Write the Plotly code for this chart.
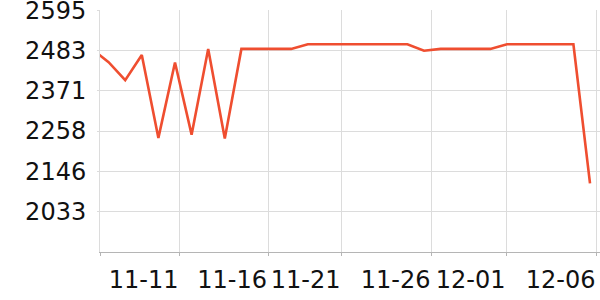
import plotly.graph_objects as go

dates = ["2023-11-06", "2023-11-07", "2023-11-08", "2023-11-09", "2023-11-10",
         "2023-11-11", "2023-11-12", "2023-11-13", "2023-11-14", "2023-11-15",
         "2023-11-16", "2023-11-17", "2023-11-18", "2023-11-19", "2023-11-20",
         "2023-11-21", "2023-11-22", "2023-11-23", "2023-11-24", "2023-11-25",
         "2023-11-26", "2023-11-27", "2023-11-28", "2023-11-29", "2023-11-30",
         "2023-12-01", "2023-12-02", "2023-12-03", "2023-12-04", "2023-12-05",
         "2023-12-06"]
values = [2487, 2450, 2400, 2470, 2239, 2449, 2248, 2487, 2237, 2487,
          2487, 2487, 2487, 2500, 2500, 2500, 2500, 2500, 2500, 2500,
          2482, 2487, 2487, 2487, 2487, 2500, 2500, 2500, 2500, 2500,
          2112]

x_tick_times = ["2023-11-06 11:34", "2023-11-11 06:30", "2023-11-16 14:27",
                "2023-11-21 00:43", "2023-11-26 10:50", "2023-11-30 23:17",
                "2023-12-06 09:22"]
x_tick_labels = ["", "11-11", "11-16", "11-21", "11-26", "12-01", "12-06"]

y_tick_vals = [2033, 2146, 2258, 2371, 2483, 2595]
y_tick_labels = ["2033", "2146", "2258", "2371", "2483", "2595"]

x_range = ["2023-11-06 11:34", "2023-12-06 14:27"]
y_range = [1921, 2595.4]

fig = go.Figure()
fig.add_trace(go.Scatter(
    x=dates, y=values, mode="lines",
    line=dict(color="#ef4e30", width=2.6),
    hoverinfo="skip",
))

fig.update_layout(
    width=600, height=300,
    margin=dict(l=100, r=0, t=10, b=48, autoexpand=False),
    paper_bgcolor="white", plot_bgcolor="white",
    showlegend=False,
    font=dict(family="DejaVu Sans", size=24, color="#111"),
)
fig.update_xaxes(
    type="date", range=x_range, automargin=False,
    tickmode="array", tickvals=x_tick_times, ticktext=x_tick_labels,
    tickangle=0, ticklabeloverflow="allow",
    showgrid=True, gridcolor="#dcdcdc", gridwidth=1,
    showline=True, linecolor="#b5b5b5", linewidth=1,
    ticks="outside", ticklen=3, tickcolor="#b5b5b5",
    ticklabelposition="outside left",
    ticklabelstandoff=6,
    zeroline=False,
)
fig.update_yaxes(
    range=y_range, automargin=False,
    tickmode="array", tickvals=y_tick_vals, ticktext=y_tick_labels,
    ticklabeloverflow="allow",
    showgrid=True, gridcolor="#dcdcdc", gridwidth=1,
    showline=True, linecolor="#dcdcdc", linewidth=1,
    ticks="outside", ticklen=2, tickcolor="#dcdcdc",
    ticklabelstandoff=6,
    zeroline=False,
)

fig.write_html("out.html")
